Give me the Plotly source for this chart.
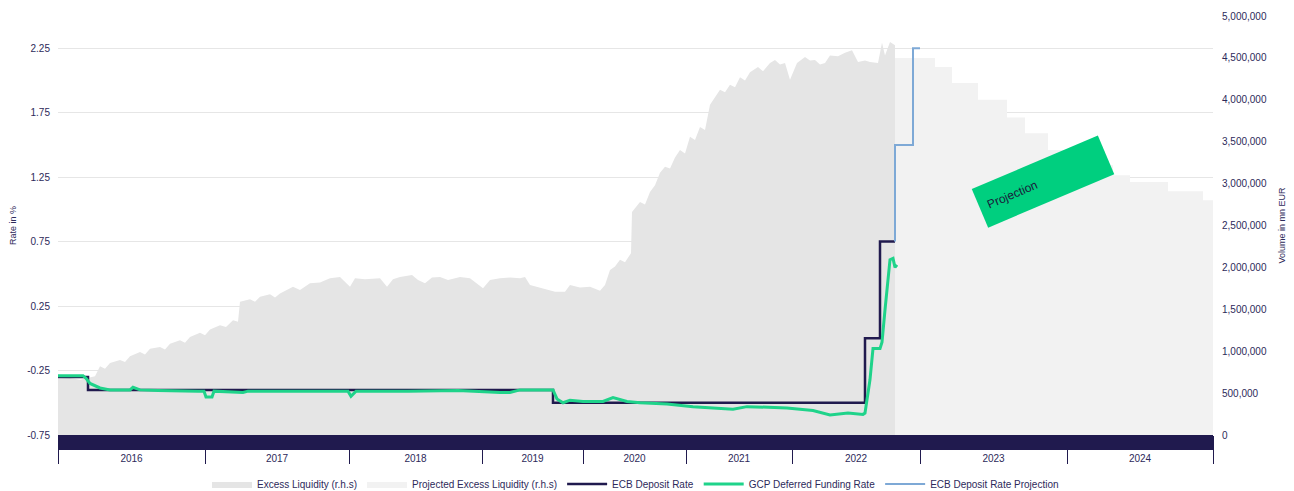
import numpy as np
import plotly.graph_objects as go

# ---------------- data ----------------
years = ["2016", "2017", "2018", "2019", "2020", "2021", "2022", "2023", "2024"]
obs_per_year = [147, 144, 133, 101, 103, 106, 128, 147, 146]  # observation counts (x is observation index)

# Excess liquidity (mn EUR), historical
el_idx = [0, 12, 22, 32, 37, 42, 47, 52, 62, 67, 72, 82, 87, 92, 102, 107, 112, 122, 127, 132,
          142, 147, 152, 162, 168, 175, 180, 182, 192, 197, 202, 212, 217, 222, 235, 242, 252, 262,
          272, 282, 292, 297, 307, 322, 329, 335, 342, 354, 360, 367, 374, 382, 390, 402, 412, 425,
          432, 442, 452, 462, 467, 472, 482, 490, 497, 507, 512, 522, 532, 542, 547, 552, 557, 562,
          567, 573, 574, 582, 587, 592, 597, 602, 607, 612, 617, 622, 627, 632, 637, 642, 647, 652,
          657, 662, 667, 672, 677, 682, 687, 692, 700, 705, 712, 717, 722, 727, 732, 739, 747, 752,
          757, 762, 767, 772, 780, 787, 794, 800, 807, 812, 820, 824, 827, 832, 837]
el_val = [670000, 680000, 660000, 690000, 700000, 820000, 790000, 860000, 895000, 870000, 940000,
          990000, 960000, 1030000, 1050000, 1020000, 1090000, 1130000, 1100000, 1170000, 1220000,
          1190000, 1260000, 1310000, 1290000, 1370000, 1350000, 1590000, 1620000, 1590000, 1650000,
          1680000, 1640000, 1690000, 1770000, 1730000, 1810000, 1820000, 1870000, 1885000, 1770000,
          1870000, 1860000, 1870000, 1770000, 1860000, 1885000, 1910000, 1850000, 1810000, 1880000,
          1885000, 1850000, 1885000, 1870000, 1750000, 1850000, 1870000, 1880000, 1870000, 1885000,
          1790000, 1760000, 1740000, 1710000, 1710000, 1790000, 1760000, 1770000, 1720000, 1790000,
          1970000, 2010000, 2090000, 2060000, 2170000, 2660000, 2780000, 2750000, 2900000, 2980000,
          3130000, 3200000, 3180000, 3310000, 3400000, 3360000, 3560000, 3520000, 3675000, 3640000,
          3940000, 4030000, 4120000, 4090000, 4180000, 4150000, 4270000, 4230000, 4330000, 4390000,
          4340000, 4440000, 4475000, 4420000, 4440000, 4240000, 4440000, 4510000, 4470000, 4475000,
          4420000, 4440000, 4530000, 4520000, 4560000, 4590000, 4450000, 4470000, 4450000, 4440000,
          4680000, 4530000, 4690000, 4650000]

# Projected excess liquidity (mn EUR), step values
pel_idx = [837, 877, 894, 920, 949, 967, 990, 1017, 1055, 1072, 1110, 1145, 1155]
pel_val = [4500000, 4390000, 4200000, 4000000, 3790000, 3600000, 3400000, 3220000, 3100000,
           3020000, 2910000, 2800000, 2800000]

# ECB deposit rate (%)
ecb_idx = [0, 30, 495, 807, 822, 837]
ecb_val = [-0.30, -0.40, -0.50, 0.00, 0.75, 0.75]

# ECB deposit rate projection (%)
proj_idx = [837, 837, 855, 862]
proj_val = [0.75, 1.50, 2.25, 2.25]

# GCP deferred funding rate (%)
gcp_idx = [0, 25, 28, 32, 42, 52, 72, 75, 82, 100, 140, 146, 148, 154, 156, 185, 190, 230, 290,
           293, 298, 350, 400, 442, 452, 462, 495, 499, 505, 512, 525, 545, 555, 569, 582, 609,
           635, 675, 689, 729, 755, 772, 790, 805, 807, 812, 815, 822, 824, 827, 832, 835, 837, 839]
gcp_val = [-0.29, -0.29, -0.31, -0.35, -0.385, -0.40, -0.40, -0.38, -0.40, -0.405, -0.41, -0.41,
           -0.455, -0.455, -0.41, -0.42, -0.41, -0.41, -0.41, -0.45, -0.41, -0.41, -0.405, -0.42,
           -0.42, -0.40, -0.40, -0.47, -0.50, -0.48, -0.49, -0.49, -0.46, -0.49, -0.50, -0.51,
           -0.53, -0.55, -0.53, -0.54, -0.56, -0.595, -0.58, -0.59, -0.58, -0.32, -0.08, -0.08,
           -0.03, 0.22, 0.61, 0.62, 0.55, 0.57]

rate_ticks = [-0.75, -0.25, 0.25, 0.75, 1.25, 1.75, 2.25]

# ---------------- styling ----------------
NAVY = "#201a4e"
GREEN = "#1fd38a"
BLUE = "#7ea9d6"
GRAY = "#e5e5e5"
LGRAY = "#f2f2f2"
TXT = "#2d2a5a"
FONT = "Liberation Sans, Arial, sans-serif"

RATE_RANGE = [-0.75, 2.5]
VOL_RANGE = [0, 5000000]

bounds = np.concatenate([[0], np.cumsum(obs_per_year)])
mids = (bounds[:-1] + bounds[1:]) / 2
# rate gridlines expressed on the (primary) volume axis so they sit beneath the area fills
grid_on_vol = [VOL_RANGE[0] + (r - RATE_RANGE[0]) / (RATE_RANGE[1] - RATE_RANGE[0]) *
               (VOL_RANGE[1] - VOL_RANGE[0]) for r in rate_ticks[1:]]

fig = go.Figure()
fig.add_trace(go.Scatter(x=el_idx, y=el_val, name="Excess Liquidity (r.h.s)", mode="lines",
                         line=dict(width=0, color=GRAY), fill="tozeroy", fillcolor=GRAY,
                         yaxis="y"))
fig.add_trace(go.Scatter(x=pel_idx, y=pel_val, name="Projected Excess Liquidity (r.h.s)",
                         mode="lines", line=dict(width=0, color=LGRAY, shape="hv"),
                         fill="tozeroy", fillcolor=LGRAY, yaxis="y"))
fig.add_trace(go.Scatter(x=ecb_idx, y=ecb_val, name="ECB Deposit Rate", mode="lines",
                         line=dict(width=2.5, color=NAVY, shape="hv"), yaxis="y2"))
fig.add_trace(go.Scatter(x=gcp_idx, y=gcp_val, name="GCP Deferred Funding Rate", mode="lines",
                         line=dict(width=3, color=GREEN), yaxis="y2"))
fig.add_trace(go.Scatter(x=proj_idx, y=proj_val, name="ECB Deposit Rate Projection", mode="lines",
                         line=dict(width=2, color=BLUE, shape="hv"), yaxis="y2"))

# the page places the figure 8px in from the top-left corner, so the figure is 8px smaller
fig.update_layout(
    width=1286, height=483,
    margin=dict(l=50, r=81, t=8, b=56, autoexpand=False),
    paper_bgcolor="white", plot_bgcolor="white",
    font=dict(family=FONT, size=10, color=TXT),
    showlegend=True,
    legend=dict(orientation="h", x=0.5, xanchor="center", y=-0.117, yanchor="middle",
                font=dict(size=10, color=TXT), itemwidth=40),
    xaxis=dict(range=[0, bounds[-1]], showgrid=False, zeroline=False, showline=False,
               automargin=False,
               tickmode="array", tickvals=mids, ticktext=years, ticks="outside", ticklen=14,
               tickcolor="rgba(0,0,0,0)", tickfont=dict(size=10, color=TXT),
               minor=dict(tickmode="array", tickvals=list(bounds), ticks="outside", ticklen=28,
                          tickcolor=NAVY, tickwidth=1, showgrid=False)),
    yaxis=dict(range=VOL_RANGE, side="right", dtick=500000, tickformat=",",
               showgrid=False, zeroline=False, automargin=False,
               ticks="outside", ticklen=6, tickcolor="rgba(0,0,0,0)",
               tickfont=dict(size=10, color=TXT),
               minor=dict(tickmode="array", tickvals=grid_on_vol, showgrid=True,
                          gridcolor="#e6e6e6", gridwidth=1, ticks=""),
               title=dict(text="Volume in mn EUR", font=dict(size=9, color=TXT), standoff=12)),
    yaxis2=dict(range=RATE_RANGE, overlaying="y", side="left", tickmode="array",
                tickvals=rate_ticks, ticktext=[f"{v:.2f}" for v in rate_ticks],
                showgrid=False, zeroline=False, automargin=False,
                ticks="outside", ticklen=5, tickcolor="rgba(0,0,0,0)",
                tickfont=dict(size=10, color=TXT),
                title=dict(text="Rate in %", font=dict(size=9, color=TXT), standoff=9)),
)

# navy band beneath the plot area
fig.add_shape(type="rect", xref="paper", yref="paper", x0=0, x1=1, y0=-0.036, y1=0,
              fillcolor=NAVY, line=dict(width=0), layer="above")

# rotated projection label
fig.add_annotation(xref="paper", yref="paper", x=0.853, y=0.605, xanchor="center",
                   yanchor="middle", text="Projection",
                   showarrow=False, textangle=-23, bgcolor="#00cf7f", width=120, height=25,
                   borderpad=8, align="left", font=dict(size=12, color="#1a1a3a"))

fig.write_html("out.html")
